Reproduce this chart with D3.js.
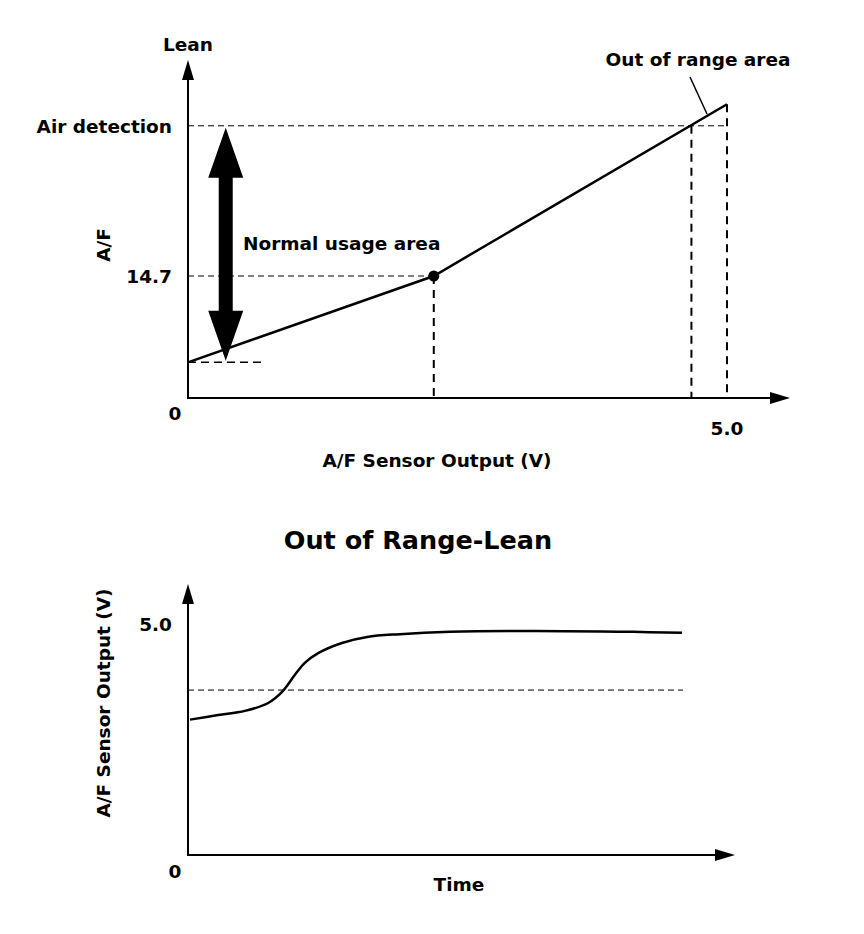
<!DOCTYPE html>
<html><head><meta charset="utf-8">
<script src="https://cdn.jsdelivr.net/npm/d3@7/dist/d3.min.js"></script>
<style>
html,body{margin:0;padding:0;background:#fff;}
text{font-family:"DejaVu Sans",Arial,Helvetica,sans-serif;font-weight:bold;fill:#000;}
</style></head>
<body><svg id="c" width="864" height="934"></svg>
<script>
// ---- Top chart data: A/F vs sensor output (V) ----
const topLine = [[0, 4.3], [2.28, 14.7], [5.0, 35.4]];   // [volts, A/F]
const stoichPoint = [2.28, 14.7];
const airDetectionAF = 32.8;
const airDetectionV = 4.67;
const normalLowAF = 4.5;
const lowDashAF = 4.3;
const normalArrowV = 0.35;
const lowDashEndV = 0.69;
const topXTicks = [{v: 5.0, label: "5.0"}];
const topYTicks = [{v: 14.7, label: "14.7"}, {v: airDetectionAF, label: "Air detection"}];

// ---- Bottom chart data: sensor output vs time ----
const timeVals  = [0.04, 0.61, 1.15, 1.62, 1.90, 2.16, 2.36, 2.63, 3.11, 3.62, 4.28, 5.29, 6.97, 8.99, 9.98];
const voltVals  = [2.93, 3.03, 3.12, 3.29, 3.53, 3.90, 4.16, 4.37, 4.59, 4.72, 4.78, 4.83, 4.85, 4.83, 4.81];
const thresholdV = 3.57;
const botYTicks = [{v: 5.0, label: "5.0"}];

const svg = d3.select("#c");
const blk = "#000";
const FS = 18.5;

function arrowHead(g, tip, dir, len, half) {
  let pts;
  if (dir === "up") pts = [[tip[0], tip[1]], [tip[0]-half, tip[1]+len], [tip[0]+half, tip[1]+len]];
  else pts = [[tip[0], tip[1]], [tip[0]-len, tip[1]-half], [tip[0]-len, tip[1]+half]];
  g.append("path").attr("d", d3.line()(pts) + "Z").attr("fill", blk);
}

// ================= TOP CHART =================
const tx = d3.scaleLinear().domain([0, 5]).range([188, 727]);
const ty = d3.scaleLinear().domain([0, 14.7]).range([398, 276]);
const gt = svg.append("g");

gt.append("line").attr("x1", tx(0)).attr("x2", tx(5)).attr("y1", ty(airDetectionAF)).attr("y2", ty(airDetectionAF))
  .attr("stroke", blk).attr("stroke-width", 1).attr("stroke-dasharray", "6,4");
gt.append("line").attr("x1", tx(0)).attr("x2", tx(stoichPoint[0])).attr("y1", ty(14.7)).attr("y2", ty(14.7))
  .attr("stroke", blk).attr("stroke-width", 1).attr("stroke-dasharray", "6,4");
gt.append("line").attr("x1", tx(0)).attr("x2", tx(lowDashEndV)).attr("y1", ty(lowDashAF)).attr("y2", ty(lowDashAF))
  .attr("stroke", blk).attr("stroke-width", 1.6).attr("stroke-dasharray", "8,5");
[[stoichPoint[0], stoichPoint[1]], [airDetectionV, airDetectionAF], [5.0, 35.4]].forEach(p => {
  gt.append("line").attr("x1", tx(p[0])).attr("x2", tx(p[0])).attr("y1", ty(p[1])).attr("y2", ty(0))
    .attr("stroke", blk).attr("stroke-width", 2).attr("stroke-dasharray", "8,6");
});

gt.append("line").attr("x1", tx(0)).attr("x2", 772).attr("y1", ty(0)).attr("y2", ty(0)).attr("stroke", blk).attr("stroke-width", 2);
gt.append("line").attr("x1", tx(0)).attr("x2", tx(0)).attr("y1", ty(0)+1).attr("y2", 78).attr("stroke", blk).attr("stroke-width", 2);
arrowHead(gt, [tx(0), 60], "up", 20, 6);
arrowHead(gt, [790, ty(0)], "right", 20, 6);

gt.append("path").datum(topLine)
  .attr("d", d3.line().x(d => tx(d[0])).y(d => ty(d[1])))
  .attr("fill", "none").attr("stroke", blk).attr("stroke-width", 2.5);
gt.append("circle").attr("cx", tx(stoichPoint[0])).attr("cy", ty(stoichPoint[1])).attr("r", 5.5).attr("fill", blk);

{
  const cx = tx(normalArrowV), yTop = ty(airDetectionAF) + 2, yBot = ty(normalLowAF);
  const hw = 17.5, sw = 7, hl = 50;
  const pts = [[cx, yTop], [cx+hw, yTop+hl], [cx+sw, yTop+hl], [cx+sw, yBot-hl], [cx+hw, yBot-hl],
               [cx, yBot], [cx-hw, yBot-hl], [cx-sw, yBot-hl], [cx-sw, yTop+hl], [cx-hw, yTop+hl]];
  gt.append("path").attr("d", d3.line()(pts) + "Z").attr("fill", blk);
}

gt.append("line").attr("x1", 690).attr("y1", 77).attr("x2", 707).attr("y2", 114).attr("stroke", blk).attr("stroke-width", 1.5);

gt.append("text").attr("x", tx(0)).attr("y", 51).attr("text-anchor", "middle").attr("font-size", FS).text("Lean");
topYTicks.forEach(t => {
  gt.append("text").attr("x", 172).attr("y", ty(t.v) + 7).attr("text-anchor", "end").attr("font-size", FS).text(t.label);
});
gt.append("text").attr("x", 175).attr("y", 420).attr("text-anchor", "middle").attr("font-size", FS).text("0");
topXTicks.forEach(t => {
  gt.append("text").attr("x", tx(t.v)).attr("y", 435).attr("text-anchor", "middle").attr("font-size", FS).text(t.label);
});
gt.append("text").attr("x", 437).attr("y", 467).attr("text-anchor", "middle").attr("font-size", FS).text("A/F Sensor Output (V)");
gt.append("text").attr("transform", "translate(110,245) rotate(-90)").attr("text-anchor", "middle").attr("font-size", FS).text("A/F");
gt.append("text").attr("x", 243).attr("y", 250).attr("font-size", FS).text("Normal usage area");
gt.append("text").attr("x", 698).attr("y", 66).attr("text-anchor", "middle").attr("font-size", FS).text("Out of range area");

// ================= BOTTOM CHART =================
const bx = d3.scaleLinear().domain([0, 10]).range([188, 683]);
const by = d3.scaleLinear().domain([0, 5]).range([855, 624]);
const gb = svg.append("g");

gb.append("text").attr("x", 418).attr("y", 549).attr("text-anchor", "middle").attr("font-size", 25.5).text("Out of Range-Lean");

gb.append("line").attr("x1", bx(0)).attr("x2", bx(10)).attr("y1", by(thresholdV)).attr("y2", by(thresholdV))
  .attr("stroke", blk).attr("stroke-width", 1).attr("stroke-dasharray", "6,4");

gb.append("line").attr("x1", bx(0)).attr("x2", 717).attr("y1", by(0)).attr("y2", by(0)).attr("stroke", blk).attr("stroke-width", 2);
gb.append("line").attr("x1", bx(0)).attr("x2", bx(0)).attr("y1", by(0)+1).attr("y2", 600).attr("stroke", blk).attr("stroke-width", 2);
arrowHead(gb, [bx(0), 584], "up", 20, 6);
arrowHead(gb, [735, by(0)], "right", 20, 6);

const curveData = timeVals.map((t, i) => [t, voltVals[i]]);
gb.append("path").datum(curveData)
  .attr("d", d3.line().x(d => bx(d[0])).y(d => by(d[1])).curve(d3.curveCatmullRom.alpha(0.5)))
  .attr("fill", "none").attr("stroke", blk).attr("stroke-width", 2.5);

botYTicks.forEach(t => {
  gb.append("text").attr("x", 172).attr("y", by(t.v) + 7).attr("text-anchor", "end").attr("font-size", FS).text(t.label);
});
gb.append("text").attr("x", 175).attr("y", 878).attr("text-anchor", "middle").attr("font-size", FS).text("0");
gb.append("text").attr("x", 459).attr("y", 891).attr("text-anchor", "middle").attr("font-size", FS).text("Time");
gb.append("text").attr("transform", "translate(110,703) rotate(-90)").attr("text-anchor", "middle").attr("font-size", FS).text("A/F Sensor Output (V)");
</script>
</body></html>
